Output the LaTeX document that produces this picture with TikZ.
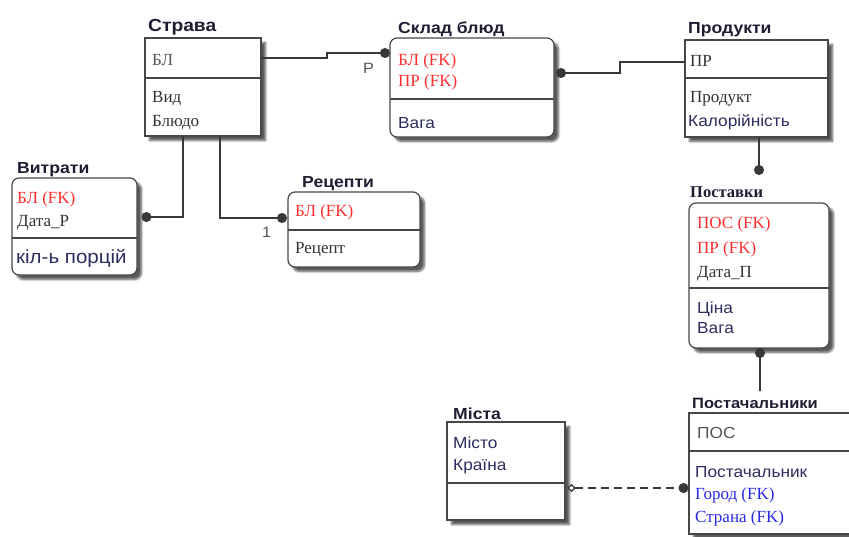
\documentclass[tikz,border=0pt]{standalone}
\usepackage{fontspec}
\setmainfont{Liberation Serif}
\newfontfamily\sansf[FakeStretch=1.08]{Liberation Sans}
\newfontfamily\titlef[FakeStretch=1.1,BoldFont={Liberation Sans Bold}]{Liberation Sans}
\usetikzlibrary{calc,shadows.blur,arrows.meta}

\definecolor{titlec}{RGB}{30,30,50}
\definecolor{fkred}{RGB}{255,45,45}
\definecolor{fkblue}{RGB}{40,40,230}
\definecolor{navyt}{RGB}{45,45,95}
\definecolor{darkt}{RGB}{50,50,50}
\definecolor{grayt}{RGB}{85,85,85}

\tikzset{
  entity/.style={draw=black!72, line width=1.2pt, fill=white, inner sep=0pt,
    outer sep=0pt, anchor=north west,
    blur shadow={shadow xshift=4.5pt, shadow yshift=-4.5pt, shadow opacity=65,
      shadow blur radius=2pt, shadow blur steps=6}},
  weak/.style={entity, rounded corners=7pt},
  divider/.style={draw=black!72, line width=1.2pt},
  conn/.style={draw=black!78, line width=1.3pt},
  erdot/.tip={Circle[length=10pt]},
  erdiam/.tip={Diamond[open, length=9pt, width=8pt, fill=white]},
  txt/.style={anchor=base west, inner sep=0pt},
  ttl/.style={txt, font=\titlef\bfseries\fontsize{16pt}{18pt}\selectfont, text=titlec},
  ser/.style={txt, font=\fontsize{17pt}{19pt}\selectfont, text=darkt},
  fk/.style={ser, text=fkred},
  fkb/.style={ser, text=fkblue},
  san/.style={txt, font=\sansf\fontsize{16pt}{18pt}\selectfont, text=navyt},
  lbl/.style={txt, font=\sansf\fontsize{15pt}{17pt}\selectfont, text=grayt},
}

\begin{document}
\begin{tikzpicture}[x=1pt, y=-1pt]
\useasboundingbox (0,0) rectangle (849,536);
\clip (0,0) rectangle (849,536);

% ---------- entities ----------
\node[entity, minimum width=116pt, minimum height=98pt]  (strava)   at (145,38)  {};
\node[weak,   minimum width=125pt, minimum height=97pt]  (vytraty)  at (12,178)  {};
\node[weak,   minimum width=132pt, minimum height=75pt]  (recepty)  at (288,192) {};
\node[weak,   minimum width=164pt, minimum height=99pt]  (sklad)    at (390,38)  {};
\node[entity, minimum width=143pt, minimum height=97pt]  (produkty) at (685,40)  {};
\node[weak,   minimum width=140pt, minimum height=145pt] (postavky) at (689,203) {};
\node[entity, minimum width=181pt, minimum height=121pt] (postach)  at (689,413) {};
\node[entity, minimum width=118pt, minimum height=98pt]  (mista)    at (447,422) {};

% ---------- key / attribute dividers ----------
\draw[divider] ($(strava.north west)+(0,40)$)   -- ($(strava.north east)+(0,40)$);
\draw[divider] ($(vytraty.north west)+(0,60)$)  -- ($(vytraty.north east)+(0,60)$);
\draw[divider] ($(recepty.north west)+(0,38)$)  -- ($(recepty.north east)+(0,38)$);
\draw[divider] ($(sklad.north west)+(0,61)$)    -- ($(sklad.north east)+(0,61)$);
\draw[divider] ($(produkty.north west)+(0,38)$) -- ($(produkty.north east)+(0,38)$);
\draw[divider] ($(postavky.north west)+(0,85)$) -- ($(postavky.north east)+(0,85)$);
\draw[divider] ($(postach.north west)+(0,38)$)  -- ($(postach.north east)+(0,38)$);
\draw[divider] ($(mista.north west)+(0,61)$)    -- ($(mista.north east)+(0,61)$);

% ---------- titles ----------
\node[ttl, font=\titlef\bfseries\fontsize{17.5pt}{19pt}\selectfont] (strava-t) at (148,31) {Страва};
\node[ttl] (vytraty-t)  at (17,173)  {Витрати};
\node[ttl] (recepty-t)  at (302,187) {Рецепти};
\node[ttl] (sklad-t)    at (398,33)  {Склад блюд};
\node[ttl] (produkty-t) at (688,33)  {Продукти};
\node[txt, font=\bfseries\fontsize{16.5pt}{18pt}\selectfont, text=titlec] (postavky-t) at (690,197) {Поставки};
\node[ttl, font=\titlef\bfseries\fontsize{15pt}{17pt}\selectfont] (postach-t) at (692,408) {Постачальники};
\node[ttl] (mista-t)    at (453,419) {Міста};

% ---------- attributes ----------
\node[ser, text=grayt] (strava-a1) at (152,65)  {БЛ};
\node[ser] (strava-a2) at (152,102) {Вид};
\node[ser] (strava-a3) at (152,126) {Блюдо};

\node[fk]  (vytraty-a1) at (17,203) {БЛ (FK)};
\node[ser] (vytraty-a2) at (17,226) {Дата\_Р};
\node[san, font=\sansf\fontsize{19pt}{21pt}\selectfont] (vytraty-a3) at (16,263) {кіл-ь порцій};

\node[fk]  (recepty-a1) at (295,216) {БЛ (FK)};
\node[ser] (recepty-a2) at (295,253) {Рецепт};

\node[fk]  (sklad-a1) at (398,65)  {БЛ (FK)};
\node[fk]  (sklad-a2) at (398,86)  {ПР (FK)};
\node[san] (sklad-a3) at (398,128) {Вага};

\node[ser] (produkty-a1) at (690,66)  {ПР};
\node[ser] (produkty-a2) at (690,102) {Продукт};
\node[san] (produkty-a3) at (688,126) {Калорійність};

\node[fk]  (postavky-a1) at (697,228) {ПОС (FK)};
\node[fk]  (postavky-a2) at (697,253) {ПР (FK)};
\node[ser] (postavky-a3) at (697,277) {Дата\_П};
\node[san] (postavky-a4) at (697,313) {Ціна};
\node[san] (postavky-a5) at (697,333) {Вага};

\node[san, text=grayt] (postach-a1) at (697,438) {ПОС};
\node[san] (postach-a2) at (695,477) {Постачальник};
\node[fkb] (postach-a3) at (695,499) {Город (FK)};
\node[fkb] (postach-a4) at (695,522) {Страна (FK)};

\node[san] (mista-a1) at (453,448) {Місто};
\node[san] (mista-a2) at (453,470) {Країна};

% ---------- relationships ----------
\draw[conn, -erdot] ($(strava.north east)+(0,20)$) -- ++(66,0)
  |- ($(sklad.north west)+(0,15)$);
\node[lbl] (lbl-p) at (363,73) {P};

\draw[conn, erdot-] ($(sklad.north east)+(2,35)$) -- ++(64,0)
  |- ($(produkty.north west)+(0,22)$);

\draw[conn, -erdot] ($(produkty.south west)+(74,0)$) -- ++(0,38);

\draw[conn, erdot-] ($(postavky.south)+(1,0)$) -- ($(postach.north west)+(71,-22)$);

\draw[conn, -erdot] ($(strava.south west)+(38,0)$) |- ($(vytraty.north east)+(4.5,39)$);

\draw[conn, -erdot] ($(strava.south west)+(75,0)$) |- ($(recepty.north west)+(-1,26)$);
\node[lbl] (lbl-1) at (262,237) {1};

\draw[conn, dash pattern=on 8pt off 5pt, erdiam-erdot]
  ($(mista.north east)+(2,66)$) -- ($(postach.north west)+(-0.5,75)$);
\end{tikzpicture}
\end{document}
